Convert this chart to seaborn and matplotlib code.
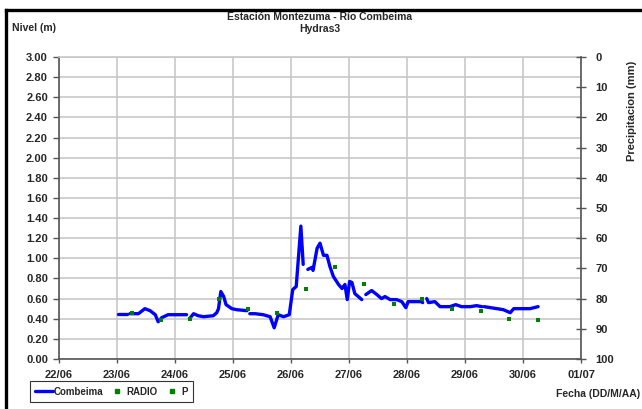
import numpy as np
import pandas as pd
import matplotlib
matplotlib.use("Agg")
import matplotlib.pyplot as plt
import seaborn as sns
from matplotlib.lines import Line2D

# ── Datos ──
# Nivel Combeima (m), tramos separados por huecos
tramo_1 = [(23.02, 0.45), (23.17, 0.45)]
tramo_2 = [(23.22, 0.45), (23.37, 0.45), (23.48, 0.50), (23.57, 0.48), (23.66, 0.44),
           (23.71, 0.37), (23.77, 0.41), (23.88, 0.44), (24.05, 0.44), (24.20, 0.44)]
tramo_3 = [(24.25, 0.40), (24.32, 0.45), (24.40, 0.43), (24.49, 0.42), (24.66, 0.43),
           (24.72, 0.46), (24.75, 0.50), (24.79, 0.67), (24.84, 0.62), (24.88, 0.54),
           (24.98, 0.50), (25.06, 0.49), (25.24, 0.48)]
tramo_4 = [(25.29, 0.45), (25.38, 0.45), (25.52, 0.44), (25.64, 0.42), (25.71, 0.31),
           (25.78, 0.44), (25.87, 0.42), (25.97, 0.44), (26.03, 0.69), (26.09, 0.72),
           (26.17, 1.32), (26.21, 0.94)]
tramo_5 = [(26.29, 0.89), (26.36, 0.91), (26.38, 0.88), (26.45, 1.10), (26.50, 1.15),
           (26.56, 1.03), (26.62, 1.03), (26.67, 0.92), (26.73, 0.82), (26.82, 0.74),
           (26.88, 0.70), (26.93, 0.74), (26.97, 0.59), (27.01, 0.77), (27.05, 0.76),
           (27.10, 0.65), (27.22, 0.59)]
tramo_6 = [(27.29, 0.64), (27.39, 0.68), (27.48, 0.64), (27.56, 0.60), (27.62, 0.62),
           (27.71, 0.59), (27.82, 0.59), (27.91, 0.57), (27.98, 0.51), (28.02, 0.57),
           (28.25, 0.57), (28.27, 0.56)]
tramo_7 = [(28.34, 0.60), (28.37, 0.56), (28.48, 0.57), (28.57, 0.52), (28.74, 0.52),
           (28.84, 0.54), (28.94, 0.52), (29.09, 0.52), (29.20, 0.53), (29.29, 0.52)]
tramo_8 = [(29.33, 0.52), (29.55, 0.50), (29.66, 0.49), (29.78, 0.46), (29.84, 0.50),
           (30.01, 0.50), (30.12, 0.50), (30.26, 0.52)]
tramos = [tramo_1, tramo_2, tramo_3, tramo_4, tramo_5, tramo_6, tramo_7, tramo_8]

# Lecturas RADIO (m)
radio_dia = [23.25, 23.75, 24.26, 24.75, 25.25, 25.75, 26.26, 26.76,
             27.25, 27.77, 28.26, 28.77, 29.27, 29.76, 30.26]
radio_nivel = [0.46, 0.39, 0.40, 0.60, 0.50, 0.46, 0.70, 0.91,
               0.75, 0.55, 0.60, 0.50, 0.48, 0.40, 0.39]

# Precipitacion P (mm) - sin registros
p_dia = []
p_mm = []

fecha_ticks = [22, 23, 24, 25, 26, 27, 28, 29, 30, 31]
fecha_labels = ["22/06", "23/06", "24/06", "25/06", "26/06",
                "27/06", "28/06", "29/06", "30/06", "01/07"]

rows = []
for i, t in enumerate(tramos):
    for d, n in t:
        rows.append({"dia": d, "nivel": n, "tramo": i})
df = pd.DataFrame(rows)
df_radio = pd.DataFrame({"dia": radio_dia, "nivel": radio_nivel})

# ── Plot ──
sns.set_style("white")
plt.rcParams['font.family'] = ['Liberation Sans', 'DejaVu Sans']
plt.rcParams['font.weight'] = 'bold'

W, H = 642, 409
fig = plt.figure(figsize=(W / 100, H / 100), dpi=100)
ax = fig.add_axes([59 / W, 1 - 359 / H, 522 / W, 302 / H])

sns.lineplot(data=df, x="dia", y="nivel", units="tramo", estimator=None,
             color="#0000ff", lw=2.4, ax=ax, legend=False)
sns.scatterplot(data=df_radio, x="dia", y="nivel", color="#008000",
                s=6, marker="s", linewidth=0, ax=ax, legend=False, zorder=3)

ax.set_xlim(22, 31)
ax.set_ylim(0, 3)
ax.set_xticks(fecha_ticks)
ax.set_xticklabels(fecha_labels)
ax.set_yticks(np.arange(0, 3.01, 0.2))
ax.set_yticklabels([f"{v:.2f}" for v in np.arange(0, 3.01, 0.2)])
ax.grid(True, color="#c8c8c8", lw=1.2)
ax.set_axisbelow(True)
ax.set_xlabel("")
ax.set_ylabel("")
ax.tick_params(axis="y", direction="out", length=4, width=1, color="#555555",
               labelsize=8, pad=4, left=True)
ax.tick_params(axis="x", direction="out", length=3, width=1, color="#555555",
               labelsize=8, pad=5, bottom=True)
for s in ["left", "bottom"]:
    ax.spines[s].set_color("#555555")
    ax.spines[s].set_linewidth(1.2)
ax.spines["top"].set_color("#c8c8c8")
ax.spines["top"].set_linewidth(1.2)
ax.spines["right"].set_visible(False)

ax2 = ax.twinx()
if p_dia:
    sns.scatterplot(x=p_dia, y=p_mm, color="#008000", s=6, ax=ax2, legend=False)
ax2.set_ylim(100, 0)
ax2.set_yticks(range(0, 101, 10))
ax2.tick_params(axis="y", direction="inout", length=7, width=1, color="#555555",
                labelsize=8, pad=7)
for s in ["left", "top", "bottom"]:
    ax2.spines[s].set_visible(False)
ax2.spines["right"].set_color("#555555")
ax2.spines["right"].set_linewidth(1.2)
ax2.grid(False)

# Textos
fig.text(320 / W, 1 - 17 / H, "Estación Montezuma - Río Combeima", ha="center",
         va="center", fontsize=7.5, fontweight="bold")
fig.text(320 / W, 1 - 29 / H, "Hydras3", ha="center", va="center",
         fontsize=7.5, fontweight="bold")
fig.text(12 / W, 1 - 28 / H, "Nivel (m)", ha="left", va="center",
         fontsize=7.5, fontweight="bold")
fig.text(632 / W, 1 - 111 / H, "Precipitacion (mm)", ha="center", va="center",
         rotation=90, fontsize=8, fontweight="bold")
fig.text(640 / W, 1 - 394 / H, "Fecha (DD/M/AA)", ha="right", va="center",
         fontsize=7.5, fontweight="bold")

# Marco
fig.add_artist(Line2D([6 / W, 6 / W], [0, 1 - 10 / H], transform=fig.transFigure,
                      color="black", lw=2.4, solid_capstyle="projecting"))
fig.add_artist(Line2D([6 / W, 1], [1 - 10 / H, 1 - 10 / H], transform=fig.transFigure,
                      color="black", lw=2.4, solid_capstyle="projecting"))

handles = [Line2D([], [], color="#0000ff", lw=2.4),
           Line2D([], [], color="#008000", marker="s", ms=2.2, lw=0),
           Line2D([], [], color="#008000", marker="s", ms=2.2, lw=0)]
leg = fig.legend(handles, ["Combeima", "RADIO", "P"], loc="lower left",
                 bbox_to_anchor=(30 / W, 1 - 402 / H), borderaxespad=0,
                 ncol=3, frameon=True, fancybox=False, edgecolor="black",
                 prop={"weight": "bold", "size": 7}, handlelength=1.8,
                 handletextpad=0.1, columnspacing=0.5, borderpad=0.55)
leg.get_frame().set_linewidth(0.8)

fig.savefig("out.png", dpi=100)
